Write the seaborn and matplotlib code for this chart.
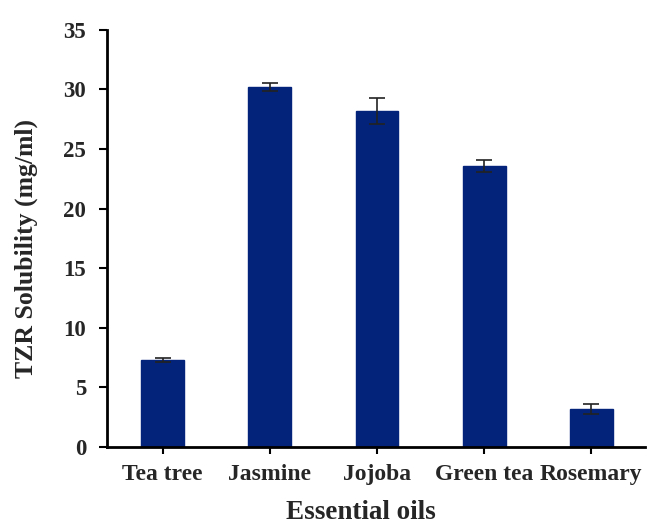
import matplotlib
matplotlib.use("Agg")
import matplotlib.pyplot as plt
import seaborn as sns
import pandas as pd

# Solubility of TZR in each essential oil (mean ± SD)
oils = ["Tea tree", "Jasmine", "Jojoba", "Green tea", "Rosemary"]
solubility = [7.3, 30.2, 28.2, 23.6, 3.2]
sd = [0.2, 0.35, 1.1, 0.5, 0.4]
y_ticks = [0, 5, 10, 15, 20, 25, 30, 35]

sns.set_theme(style="white")
plt.rcParams["font.family"] = ["Liberation Serif", "DejaVu Serif"]
plt.rcParams["font.weight"] = "bold"

df = pd.DataFrame({"oil": oils, "solubility": solubility, "sd": sd})

fig = plt.figure(figsize=(6.6, 5.24), dpi=100)
ax = fig.add_axes([0.162, 0.147, 0.815, 0.796])

sns.barplot(data=df, x="oil", y="solubility", color="#03237A",
            saturation=1, width=0.4, errorbar=None, ax=ax,
            edgecolor="#03237A")
ax.errorbar(range(len(oils)), df["solubility"], yerr=df["sd"], fmt="none",
            ecolor="#222222", elinewidth=1.2, capsize=6, capthick=1.2)

ax.set_ylim(0, 35)
ax.set_xlim(-0.52, 4.5)
ax.set_yticks(y_ticks)
ax.set_yticklabels([str(t) for t in y_ticks], fontsize=16.5, fontweight="bold")
ax.set_xticks(range(len(oils)))
ax.set_xticklabels(oils, fontsize=17, fontweight="bold")

ax.set_ylabel("TZR Solubility (mg/ml)", fontsize=18.5, fontweight="bold")
ax.yaxis.label.set_va("center")
ax.yaxis.set_label_coords(-0.1506, 0.477)

ax.set_xlabel("Essential oils", fontsize=19.5, fontweight="bold")
ax.xaxis.label.set_va("baseline")
ax.xaxis.set_label_coords(0.473, -0.172)

for side in ["top", "right"]:
    ax.spines[side].set_visible(False)
for side in ["left", "bottom"]:
    ax.spines[side].set_color("black")
    ax.spines[side].set_linewidth(2)

ax.tick_params(axis="y", direction="out", length=6, width=1.5, color="black", pad=9, left=True)
ax.tick_params(axis="x", direction="out", length=5, width=1.5, color="black", pad=7, bottom=True)

fig.savefig("out.png", dpi=100)
